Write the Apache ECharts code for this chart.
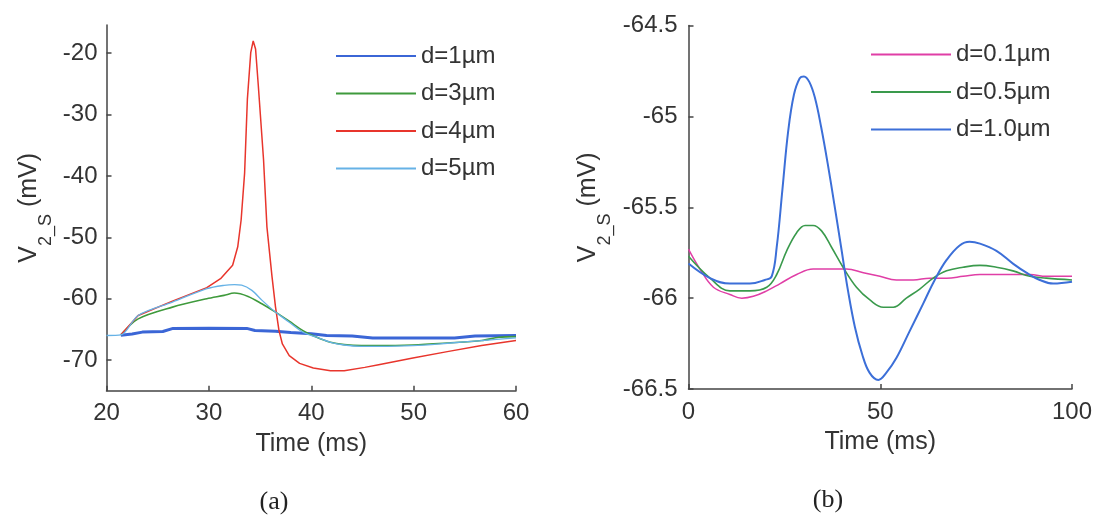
<!DOCTYPE html>
<html>
<head>
<meta charset="utf-8">
<script src="https://cdn.jsdelivr.net/npm/echarts@6/dist/echarts.min.js"></script>
<style>
  html, body { margin: 0; padding: 0; background: #ffffff; }
  #chart { width: 1096px; height: 517px; }
</style>
</head>
<body>
<div id="chart"></div>
<script>
// ---- Panel (a): soma potential for several fibre diameters, 20–60 ms ----
const xTicksA = [20, 30, 40, 50, 60];
const yTicksA = [-70, -60, -50, -40, -30, -20];

const tA_d1 = [21.4, 22.5, 23.5, 25.5, 26.5, 30, 33.7, 34.5, 36.5, 38, 40, 41.5, 44, 46, 50, 54, 56, 60];
const vA_d1 = [-65.95, -65.75, -65.45, -65.35, -64.85, -64.82, -64.85, -65.2, -65.3, -65.5, -65.7, -66.0, -66.1, -66.4, -66.42, -66.4, -66.1, -66.0];

const tA_d3 = [21.41, 23.09, 26.44, 29.8, 31.48, 32.48, 33.83, 35.17, 36.51, 37.85, 39.19, 40.54, 41.88, 43.22, 44.9, 46.58, 49.93, 53.29, 56.64, 58.32, 60];
const vA_d3 = [-65.9, -63.29, -61.38, -60.01, -59.46, -59.08, -59.63, -60.83, -62.19, -63.67, -65.2, -66.29, -67.11, -67.49, -67.65, -67.65, -67.54, -67.22, -66.83, -66.29, -66.18];

const tA_d4 = [21.41, 23.09, 26.44, 29.8, 31.14, 32.32, 32.82, 33.15, 33.49, 33.76, 34.09, 34.33, 34.56, 34.83, 35.34, 35.67, 36.17, 36.51, 36.85, 37.18, 37.85, 38.86, 40.2, 41.88, 43.22, 45.23, 46.58, 49.93, 53.29, 56.64, 60];
const vA_d4 = [-65.9, -62.74, -60.4, -58.2, -56.74, -54.55, -51.55, -47.18, -39.54, -27.53, -19.9, -18.0, -19.3, -25.3, -37.36, -48.3, -56.46, -61.37, -65.2, -67.38, -69.29, -70.55, -71.3, -71.75, -71.75, -71.2, -70.76, -69.67, -68.63, -67.65, -66.83];

const tA_d5 = [20, 21.4, 23.09, 26.44, 29.8, 31.48, 32.5, 33.2, 34.2, 35.2, 36.5, 37.85, 39.19, 40.54, 41.88, 43.22, 44.9, 46.58, 49.93, 53.29, 56.64, 60];
const vA_d5 = [-66.0, -65.91, -62.74, -60.56, -58.37, -57.83, -57.72, -57.8, -58.65, -60.28, -62.19, -63.83, -65.47, -66.29, -67.11, -67.55, -67.76, -67.76, -67.65, -67.27, -66.83, -66.4];

// ---- Panel (b): sub-threshold response, 0–100 ms ----
const xTicksB = [0, 50, 100];
const yTicksB = [-66.5, -66, -65.5, -65, -64.5];

const tB_d01 = [0, 3.0, 6.5, 10.8, 13.9, 16.9, 20.4, 23.9, 28.2, 32.5, 36.9, 41.2, 45.6, 49.9, 54.2, 58.6, 62.9, 67.3, 71.6, 76, 80.3, 84.6, 89, 93.3, 100];
const vB_d01 = [-65.73, -65.84, -65.94, -65.98, -66.0, -65.99, -65.96, -65.92, -65.87, -65.84, -65.84, -65.84, -65.86, -65.88, -65.9, -65.9, -65.89, -65.89, -65.88, -65.87, -65.87, -65.87, -65.87, -65.88, -65.88];

const tB_d05 = [0, 5.6, 10.8, 16, 20.4, 23, 25.6, 28.2, 30.4, 32.5, 34.7, 37.3, 40.3, 43.8, 47.3, 50.8, 53.4, 56.8, 60.3, 63.8, 67.3, 71.6, 76, 80.3, 84.6, 89, 93.3, 100];
const vB_d05 = [-65.77, -65.89, -65.96, -65.96, -65.94, -65.87, -65.74, -65.64, -65.6, -65.6, -65.63, -65.72, -65.83, -65.94, -66.01, -66.05, -66.05, -66.0, -65.95, -65.89, -65.85, -65.83, -65.82, -65.83, -65.85, -65.88, -65.89, -65.9];

const tB_d10 = [0, 5.6, 10.8, 16, 19.9, 21.7, 23.0, 24.5, 26.0, 27.5, 29.0, 30.1, 31.5, 33.0, 34.6, 36.3, 38.0, 39.8, 41.6, 43.4, 45.3, 47.2, 49.5, 51.6, 54.2, 57.7, 61.2, 64.2, 67.3, 70.7, 73.3, 76.0, 80.3, 84.6, 88.1, 91.6, 95.1, 100];
const vB_d10 = [-65.81, -65.89, -65.92, -65.92, -65.9, -65.88, -65.72, -65.4, -65.08, -64.88, -64.79, -64.78, -64.81, -64.9, -65.06, -65.26, -65.48, -65.72, -65.96, -66.16, -66.31, -66.41, -66.45, -66.41, -66.33, -66.18, -66.03, -65.9, -65.79, -65.71, -65.69, -65.7, -65.74, -65.81, -65.86, -65.9, -65.92, -65.91];

const FONT = '"Liberation Sans", Arial, sans-serif';
const FS = 24;
const TEXT = '#333333';
const AXIS = '#444444';

function pairs(t, v) { return t.map((x, i) => [x, v[i]]); }

function yName() {
  return {
    name: '{v|V}{s|2_S}{v| (mV)}',
    nameLocation: 'middle',
    nameTextStyle: {
      rich: {
        v: { fontFamily: FONT, fontSize: FS + 1, color: TEXT, lineHeight: 26, verticalAlign: 'top' },
        s: { fontFamily: FONT, fontSize: 18, color: TEXT, lineHeight: 18, verticalAlign: 'top', padding: [21, 0, 0, 0] }
      }
    }
  };
}

function axisBase() {
  return {
    axisLine: { show: true, onZero: false, lineStyle: { color: AXIS, width: 1.5 } },
    axisTick: { show: true, inside: true, length: 5, lineStyle: { color: AXIS, width: 1.5 } },
    splitLine: { show: false },
    axisLabel: { fontFamily: FONT, fontSize: FS, color: TEXT }
  };
}

function line(name, t, v, color, width, xi, smooth) {
  return {
    name: name, type: 'line', xAxisIndex: xi, yAxisIndex: xi,
    data: pairs(t, v), showSymbol: false, symbol: 'none',
    smooth: smooth,
    lineStyle: { color: color, width: width }, itemStyle: { color: color },
    z: 3
  };
}

function legendBox(left, top, names) {
  return {
    left: left, top: top, orient: 'vertical', selectedMode: false,
    itemWidth: 80, itemHeight: 20, itemGap: 13.5,
    itemStyle: { opacity: 0, borderWidth: 0 },
    textStyle: { fontFamily: FONT, fontSize: FS, color: TEXT, padding: [0, 0, 0, 0] },
    data: names
  };
}

const chart = echarts.init(document.getElementById('chart'), null, { renderer: 'canvas' });

const xA = Object.assign(axisBase(), {
  type: 'value', gridIndex: 0, min: 20, max: 60, interval: 10,
  name: 'Time (ms)', nameLocation: 'middle', nameGap: 41,
  nameTextStyle: { fontFamily: FONT, fontSize: FS + 1, color: TEXT }
});
xA.axisLabel.margin = 11;

const yA = Object.assign(axisBase(), yName(), {
  type: 'value', gridIndex: 0, min: -75, max: -15.4, nameGap: 64
});
yA.axisLabel.customValues = yTicksA;
yA.axisTick.customValues = yTicksA;
yA.axisLabel.margin = 9;

const xB = Object.assign(axisBase(), {
  type: 'value', gridIndex: 1, min: 0, max: 100, interval: 50,
  name: 'Time (ms)', nameLocation: 'middle', nameGap: 41,
  nameTextStyle: { fontFamily: FONT, fontSize: FS + 1, color: TEXT }
});
xB.axisLabel.margin = 11;

const yB = Object.assign(axisBase(), yName(), {
  type: 'value', gridIndex: 1, min: -66.5, max: -64.5, interval: 0.5, nameGap: 87
});
yB.axisLabel.margin = 11;

chart.setOption({
  animation: false,
  backgroundColor: '#ffffff',
  grid: [
    { left: 106.5, right: 580, top: 25, bottom: 126.3 },
    { left: 688.5, right: 24, top: 25.5, bottom: 128 }
  ],
  xAxis: [xA, xB],
  yAxis: [yA, yB],
  legend: [
    legendBox(330, 39, ['d=1µm', 'd=3µm', 'd=4µm', 'd=5µm']),
    legendBox(865, 37.5, ['d=0.1µm', 'd=0.5µm', 'd=1.0µm'])
  ],
  graphic: [
    { type: 'text', x: 274, y: 502, style: { text: '(a)', font: '26px "Liberation Serif", "Times New Roman", serif', fill: '#222', align: 'center', verticalAlign: 'middle' } },
    { type: 'text', x: 828, y: 500, style: { text: '(b)', font: '26px "Liberation Serif", "Times New Roman", serif', fill: '#222', align: 'center', verticalAlign: 'middle' } }
  ],
  series: [
    line('d=1µm', tA_d1, vA_d1, '#3b66d6', 3, 0, false),
    line('d=3µm', tA_d3, vA_d3, '#3f9a3c', 1.6, 0, 0.3),
    line('d=4µm', tA_d4, vA_d4, '#e8352c', 1.5, 0, false),
    line('d=5µm', tA_d5, vA_d5, '#66b2e6', 1.3, 0, 0.3),
    line('d=0.1µm', tB_d01, vB_d01, '#e03ea6', 1.5, 1, 0.4),
    line('d=0.5µm', tB_d05, vB_d05, '#3a9a4c', 1.6, 1, 0.4),
    line('d=1.0µm', tB_d10, vB_d10, '#3c6fd8', 2, 1, 0.4)
  ]
});
</script>
</body>
</html>
